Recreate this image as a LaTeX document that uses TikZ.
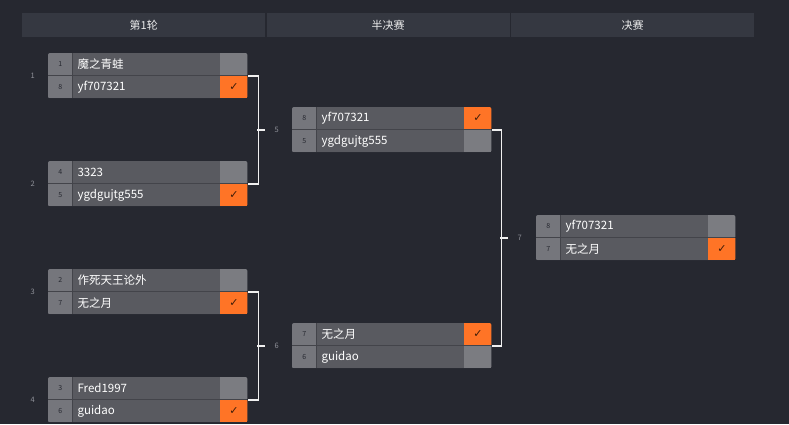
\documentclass[tikz,border=0pt]{standalone}
\usepackage{fontspec}
\setmainfont{Noto Sans CJK SC}
\newfontfamily\checkfont{DejaVu Sans}
\usetikzlibrary{calc,positioning}

\definecolor{bgdark}{HTML}{262830}
\definecolor{headbar}{HTML}{353841}
\definecolor{seedgray}{HTML}{75767C}
\definecolor{namegray}{HTML}{595A60}
\definecolor{scoregray}{HTML}{7B7C81}
\definecolor{rowline}{HTML}{43444A}
\definecolor{winorange}{HTML}{FF7426}
\definecolor{taggray}{HTML}{8F9199}

\tikzset{frame/.style = {fill=rowline, minimum width=199pt, minimum height=45pt, inner sep=0pt, rounded corners=2pt},
         seed/.style = {fill=seedgray, minimum width=24pt, minimum height=22pt, inner sep=0pt, text=bgdark, font=\fontsize{7}{8}\selectfont},
         player/.style = {fill=namegray, minimum height=22pt, inner xsep=5pt, inner ysep=0pt, text width=137pt, align=left, text=white, font=\fontsize{11.5}{13}\selectfont},
         lose/.style = {fill=scoregray, minimum width=28pt, minimum height=22pt, inner sep=0pt},
         win/.style = {lose, fill=winorange, text=black!75!winorange, font=\fontsize{11}{12}\checkfont},
         bracket/.style = {draw=white!94!black, line width=1.6pt},
         tag/.style = {text=taggray, inner sep=0pt, font=\fontsize{7.5}{8}\selectfont},
         headcell/.style = {fill=headbar, minimum width=243pt, minimum height=24pt, inner sep=0pt, text=white!92!black, font=\fontsize{11}{13}\selectfont}}

\newcommand\markwin{✓}
\newcommand\marklose{}
% #1 name, #2 top left, #3/#4 seed and player a, #5/#6 seed and player b, #7/#8 win or lose
\newcommand{\duel}[8]{%
  \node[frame, anchor=north west] (#1) at (#2) {};
  \begin{scope}
    \clip[rounded corners=2pt] (#1.north west) rectangle (#1.south east);
    \node[seed, anchor=north west] (#1-sa) at (#1.north west) {#3};
    \node[player, right=0pt of #1-sa] (#1-pa) {#4};
    \node[#7, right=0pt of #1-pa] (#1-ca) {\csname mark#7\endcsname};
    \node[seed, anchor=south west] (#1-sb) at (#1.south west) {#5};
    \node[player, right=0pt of #1-sb] (#1-pb) {#6};
    \node[#8, right=0pt of #1-pb] (#1-cb) {\csname mark#8\endcsname};
  \end{scope}
}

\begin{document}
\begin{tikzpicture}[x=1pt, y=-1pt]
\useasboundingbox[fill=bgdark] (0,0) rectangle (789,424);

% header
\node[headcell, anchor=north west] (h1) at (22,13) {第1轮};
\node[headcell, right=1pt of h1] (h2) {半决赛};
\node[headcell, right=1pt of h2] (h3) {决赛};

% round 1
\duel{m1}{48,53}{1}{魔之青蛙}{8}{yf707321}{lose}{win}
\duel{m2}{48,161}{4}{3323}{5}{ygdgujtg555}{lose}{win}
\duel{m3}{48,269}{2}{作死天王论外}{7}{无之月}{lose}{win}
\duel{m4}{48,377}{3}{Fred1997}{6}{guidao}{lose}{win}
% semi final and final
\duel{m5}{292,107}{8}{yf707321}{5}{ygdgujtg555}{win}{lose}
\duel{m6}{292,323}{7}{无之月}{6}{guidao}{win}{lose}
\duel{m7}{536,215}{8}{yf707321}{7}{无之月}{lose}{win}

\foreach \m in {1,2,3,4}
  \node[tag, left=13pt of m\m] (t\m) {\m};

% brackets
\draw[bracket] ([xshift=1pt]m1.east) -- ++(10,0) |- ([xshift=1pt]m2.east);
\draw[bracket] ([xshift=1pt]m3.east) -- ++(10,0) |- ([xshift=1pt]m4.east);
\draw[bracket] ([xshift=1pt]m5.east) -- ++(9,0) |- ([xshift=1pt]m6.east);
\coordinate (b5) at ($(m1.east)!.5!(m2.east)+(18,0)$);
\coordinate (b6) at ($(m3.east)!.5!(m4.east)+(18,0)$);
\coordinate (b7) at ($(m5.east)!.5!(m6.east)+(17,0)$);
\draw[bracket] ($(m1.east)!.5!(m2.east)+(10,0)$) -- (b5);
\draw[bracket] ($(m3.east)!.5!(m4.east)+(10,0)$) -- (b6);
\draw[bracket] ($(m5.east)!.5!(m6.east)+(9,0)$) -- (b7);
\node[tag, right=9pt of b5] (t5) {5};
\node[tag, right=9pt of b6] (t6) {6};
\node[tag, right=9pt of b7] (t7) {7};
\end{tikzpicture}
\end{document}
